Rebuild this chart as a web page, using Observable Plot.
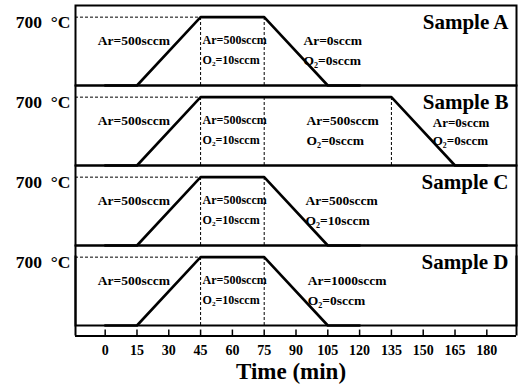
<!DOCTYPE html>
<html>
<head>
<meta charset="utf-8">
<script src="https://cdn.jsdelivr.net/npm/d3@7"></script>
<script src="https://cdn.jsdelivr.net/npm/@observablehq/plot@0.6"></script>
<style>
  html, body { margin: 0; padding: 0; background: #fff; }
  #chart svg { display: block; }
</style>
</head>
<body>
<div id="chart"></div>
<script>
// ---- data ----
const samples = ["A", "B", "C", "D"];

// temperature programme (time in min, temperature in °C)
const timeA = [0, 15, 45, 75, 105, 120];
const tempA = [25, 25, 700, 700, 25, 25];
const timeB = [0, 15, 45, 135, 165, 180];
const tempB = [25, 25, 700, 700, 25, 25];
const timeC = [0, 15, 45, 75, 105, 120];
const tempC = [25, 25, 700, 700, 25, 25];
const timeD = [0, 15, 45, 75, 105, 120];
const tempD = [25, 25, 700, 700, 25, 25];

// gas switching times (dashed lines)
const switchSample = ["A", "A", "B", "B", "B", "C", "C", "D", "D"];
const switchTime   = [45, 75, 45, 75, 135, 45, 75, 45, 75];

// gas flow labels for each stage
const gasSample = ["A", "A", "A", "B", "B", "B", "B", "C", "C", "C", "D", "D", "D"];
const gasPhase  = [0, 1, 2, 0, 1, 2, 3, 0, 1, 2, 0, 1, 2];
const gasTime   = [13.5, 45, 93.5, 13.5, 45, 95, 154.5, 13.5, 45, 94.5, 13.5, 45, 95.5];
const gasAr = ["Ar=500sccm", "Ar=500sccm", "Ar=0sccm",
               "Ar=500sccm", "Ar=500sccm", "Ar=500sccm", "Ar=0sccm",
               "Ar=500sccm", "Ar=500sccm", "Ar=500sccm",
               "Ar=500sccm", "Ar=500sccm", "Ar=1000sccm"];
const gasO2 = ["", "O\u2082=10sccm", "O\u2082=0sccm",
               "", "O\u2082=10sccm", "O\u2082=0sccm", "O\u2082=0sccm",
               "", "O\u2082=10sccm", "O\u2082=10sccm",
               "", "O\u2082=10sccm", "O\u2082=0sccm"];

const xTicks = [0, 15, 30, 45, 60, 75, 90, 105, 120, 135, 150, 165, 180];
const peakTemp = 700;
const peakLabel = "700\u00A0\u00A0\u00B0C";
const xLabel = "Time (min)";

// ---- build tables ----
const profiles = {A: [timeA, tempA], B: [timeB, tempB], C: [timeC, tempC], D: [timeD, tempD]};
const profileRows = samples.flatMap(s => profiles[s][0].map((t, i) => ({s, t, T: profiles[s][1][i]})));
const switchRows = switchSample.map((s, i) => ({s, t: switchTime[i]}));
const gasRows = gasSample.map((s, i) => ({s, t: gasTime[i], phase: gasPhase[i], ar: gasAr[i], o2: gasO2[i]}));
const rampTop = samples.map(s => ({s, t: profiles[s][0][2]}));
const baseT = 25;

// ---- layout ----
const W = 519, H = 391, mTop = 4, mBottom = 65;
const xDom = [-14, 194];
const yDom = [baseT, 815];
const facetH = (H - mTop - mBottom) / samples.length;
const unitsPerPx = (yDom[1] - yDom[0]) / facetH;
const row1 = 470, row2 = 275;
const axisDrop = 10.5;
const serif = "'Liberation Serif', 'Times New Roman', Times, serif";
const dash = "3,2";

const chart = Plot.plot({
  width: W,
  height: H,
  marginLeft: 75,
  marginRight: 3,
  marginTop: mTop,
  marginBottom: mBottom,
  style: {fontFamily: serif, fontWeight: "bold", background: "white", color: "black"},
  x: {domain: xDom, axis: null},
  y: {domain: yDom, axis: null},
  fy: {domain: samples, padding: 0, axis: null},
  marks: [
    Plot.frame({stroke: "black", strokeWidth: 2}),
    // extension of the frame down to the time axis
    Plot.ruleX(xDom, {x: d => d, fy: () => "D", dy: axisDrop, stroke: "black", strokeWidth: 2}),
    Plot.ruleY(["D"], {fy: d => d, y: baseT, dy: axisDrop, stroke: "black", strokeWidth: 2}),
    Plot.ruleX(xTicks, {x: d => d, fy: () => "D", y1: baseT, y2: baseT + 6 * unitsPerPx, dy: axisDrop, stroke: "black", strokeWidth: 1.5}),
    // dashed guides
    Plot.ruleY(rampTop, {fy: "s", y: peakTemp, x1: xDom[0], x2: "t", stroke: "black", strokeWidth: 1, strokeDasharray: dash}),
    Plot.ruleX(switchRows, {fy: "s", x: "t", y1: baseT, y2: peakTemp, stroke: "black", strokeWidth: 1, strokeDasharray: dash}),
    // temperature programme
    Plot.line(profileRows, {fy: "s", x: "t", y: "T", z: "s", stroke: "black", strokeWidth: 2.6}),
    // 700 °C labels
    Plot.text(samples, {fy: d => d, x: xDom[0], y: peakTemp, text: () => peakLabel, textAnchor: "end", dx: -5, dy: 5, fontSize: 17.5, fontWeight: "bold", fontFamily: serif}),
    // sample titles
    Plot.text(samples, {fy: d => d, text: d => "Sample " + d, frameAnchor: "top-right", textAnchor: "end", lineAnchor: "top", dx: -8, dy: 9, fontSize: 21, fontWeight: "bold", fontFamily: serif}),
    // gas labels: first stage
    Plot.text(gasRows.filter(d => d.phase === 0), {fy: "s", x: "t", y: row1, text: "ar", textAnchor: "middle", fontSize: 13.5, fontWeight: "bold", fontFamily: serif}),
    // gas labels: oxidation stage
    Plot.text(gasRows.filter(d => d.phase === 1), {fy: "s", x: "t", y: row1, text: "ar", textAnchor: "start", dx: 2, fontSize: 12, fontWeight: "bold", fontFamily: serif}),
    Plot.text(gasRows.filter(d => d.phase === 1), {fy: "s", x: "t", y: row2, text: "o2", textAnchor: "start", dx: 2, fontSize: 12, fontWeight: "bold", fontFamily: serif}),
    // gas labels: later stages
    Plot.text(gasRows.filter(d => d.phase === 2), {fy: "s", x: "t", y: row1, text: "ar", textAnchor: "start", fontSize: 13.5, fontWeight: "bold", fontFamily: serif}),
    Plot.text(gasRows.filter(d => d.phase === 2), {fy: "s", x: "t", y: row2, text: "o2", textAnchor: "start", fontSize: 13.5, fontWeight: "bold", fontFamily: serif}),
    Plot.text(gasRows.filter(d => d.phase === 3), {fy: "s", x: "t", y: row1, text: "ar", textAnchor: "start", dy: 2.5, fontSize: 13, fontWeight: "bold", fontFamily: serif}),
    Plot.text(gasRows.filter(d => d.phase === 3), {fy: "s", x: "t", y: row2, text: "o2", textAnchor: "start", dy: 1, fontSize: 13, fontWeight: "bold", fontFamily: serif}),
    // time axis
    Plot.axisX(xTicks, {tickSize: 0, tickPadding: 20, label: null, fontSize: 14, fontWeight: "bold", fontFamily: serif}),
    Plot.text([xLabel], {fy: () => "D", frameAnchor: "bottom", text: d => d, dy: 53, dx: -5, fontSize: 23, fontWeight: "bold", fontFamily: serif})
  ]
});

document.getElementById("chart").appendChild(chart);
</script>
</body>
</html>
